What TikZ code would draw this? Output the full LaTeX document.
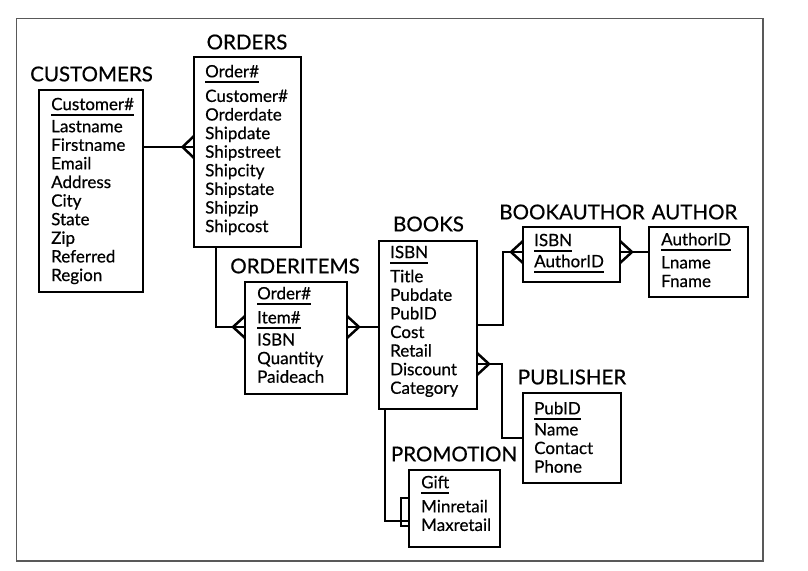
\documentclass[tikz,border=0pt]{standalone}
\usepackage{fontspec}
\setmainfont{Lato}[FakeBold=0.5]
\usetikzlibrary{calc}
\newcommand{\pkey}[1]{\setbox0\hbox{#1}\rlap{\copy0}\rule[-5.6pt]{\wd0}{2.2pt}}
\newcommand{\crowfoot}[2]{\draw[link] ($(#1)+(0,-11)$) -- ($(#1)+(#2,0)$) -- ($(#1)+(0,11)$);}
\tikzset{entity/.style={rectangle, draw, line width=2.5pt, outer sep=0pt, inner sep=0pt, anchor=north west}}
\tikzset{attrs/.style={anchor=north west, align=left, inner sep=0pt, font=\fontsize{17}{18.6}\selectfont}}
\tikzset{etitle/.style={inner sep=0pt, font=\fontsize{20.5}{24}\selectfont}}
\tikzset{link/.style={line width=2.5pt}}
\begin{document}
\begin{tikzpicture}[x=1pt, y=-1pt]
  \useasboundingbox (0,0) rectangle (808,570);
  \draw[line width=1.3pt, black!65] (16.5,18.7) rectangle (763,561);

  \node[entity, minimum width=104, minimum height=202] (cust) at (39,90) {};
  \node[entity, minimum width=107, minimum height=190] (orders) at (194,57) {};
  \node[entity, minimum width=102, minimum height=112] (items) at (245,282) {};
  \node[entity, minimum width=98, minimum height=168] (books) at (379,241) {};
  \node[entity, minimum width=97, minimum height=55] (bauth) at (523,227) {};
  \node[entity, minimum width=99, minimum height=70] (author) at (649,227) {};
  \node[entity, minimum width=98, minimum height=90] (pub) at (523,393) {};
  \node[entity, minimum width=91, minimum height=77] (promo) at (409,470) {};

  \node[etitle] (cust-t) at (91.5,74) {CUSTOMERS};
  \node[etitle] (orders-t) at (247,42) {ORDERS};
  \node[etitle] (items-t) at (295,266) {ORDERITEMS};
  \node[etitle] (books-t) at (428.5,224) {BOOKS};
  \node[etitle] (bauth-t) at (572,212) {BOOKAUTHOR};
  \node[etitle] (author-t) at (694.5,212) {AUTHOR};
  \node[etitle] (pub-t) at (572,377) {PUBLISHER};
  \node[etitle] (promo-t) at (454,454) {PROMOTION};

  \node[attrs] (cust-a) at (51,97.6) {\pkey{Customer\#}\\[3.5pt]Lastname\\Firstname\\Email\\Address\\City\\State\\Zip\\Referred\\Region};
  \node[attrs] (orders-a) at (205,64.6) {\pkey{Order\#}\\[6pt]Customer\#\\Orderdate\\Shipdate\\Shipstreet\\Shipcity\\Shipstate\\Shipzip\\Shipcost};
  \node[attrs] (items-a) at (257,286.6) {\pkey{Order\#}\\[5.5pt]\pkey{Item\#}\\[3.5pt]ISBN\\Quantity\\Paideach};
  \node[attrs] (books-a) at (390,245.6) {\pkey{ISBN}\\[5.5pt]Title\\Pubdate\\PubID\\Cost\\Retail\\Discount\\Category};
  \node[attrs] (bauth-a) at (534,233.6) {\pkey{ISBN}\\[2.5pt]\pkey{AuthorID}};
  \node[attrs] (author-a) at (661,232.6) {\pkey{AuthorID}\\[4.5pt]Lname\\Fname};
  \node[attrs] (pub-a) at (534,401.6) {\pkey{PubID}\\[2.5pt]Name\\Contact\\Phone};
  \node[attrs] (promo-a) at (421,475.6) {\pkey{Gift}\\[5.5pt]Minretail\\Maxretail};

  % customers - orders
  \coordinate (co) at (orders.west |- 0,147);
  \draw[link] (cust.east |- co) -- (co);
  \crowfoot{co}{-11.5}
  % orders - orderitems
  \coordinate (oi) at (items.west |- 0,327);
  \draw[link] (orders.south -| 216,0) |- (oi);
  \crowfoot{oi}{-12}
  % orderitems - books
  \coordinate (ib) at (items.east |- 0,327);
  \draw[link] (ib) -- (books.west |- ib);
  \crowfoot{ib}{12}
  % books - bookauthor - author
  \coordinate (ba) at (bauth.west |- 0,252);
  \draw[link] (books.east |- 0,325) -- ++(26,0) |- (ba);
  \crowfoot{ba}{-12}
  \coordinate (aa) at (bauth.east |- 0,252);
  \draw[link] (aa) -- (author.west |- aa);
  \crowfoot{aa}{12}
  % books - publisher
  \coordinate (bp) at (books.east |- 0,364);
  \draw[link] (bp) -- ++(25,0) |- (pub.west |- 0,438);
  \crowfoot{bp}{12}
  % books - promotion
  \coordinate (pr) at (promo.west |- 0,521);
  \draw[link] (books.south -| 385,0) |- (pr);
  \draw[link] (promo.west |- 0,498) -- ++(-8,0) -- ++(0,28) -- ++(8,0);
\end{tikzpicture}
\end{document}
